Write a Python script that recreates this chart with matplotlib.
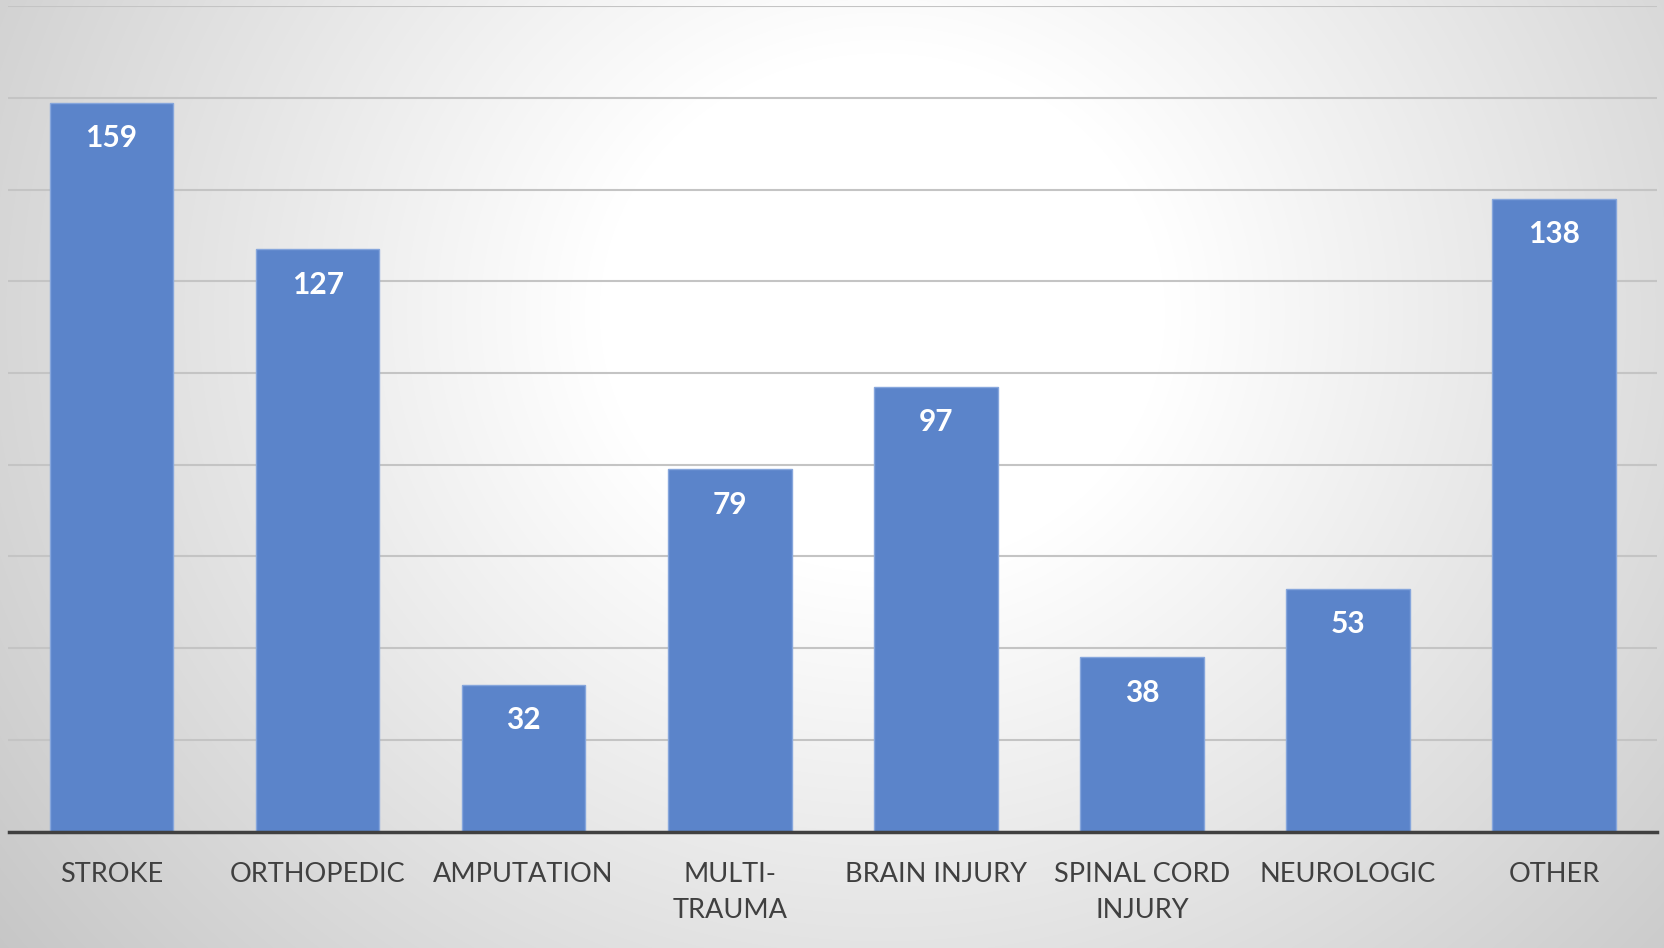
import numpy as np
import matplotlib
matplotlib.use("Agg")
import matplotlib.pyplot as plt

categories = ["STROKE", "ORTHOPEDIC", "AMPUTATION", "MULTI-\nTRAUMA", "BRAIN INJURY",
              "SPINAL CORD\nINJURY", "NEUROLOGIC", "OTHER"]
values = [159, 127, 32, 79, 97, 38, 53, 138]
y_ticks = [0, 20, 40, 60, 80, 100, 120, 140, 160, 180]

W, H = 1665, 948
fig = plt.figure(figsize=(W / 100, H / 100), dpi=100)

# radial gradient background
bg = fig.add_axes([0, 0, 1, 1], zorder=0)
yy, xx = np.mgrid[0:H, 0:W]
cx, cy = 0.53 * W, 0.33 * H
r = np.sqrt(((xx - cx) / W) ** 2 + (0.62 * (yy - cy) / H) ** 2)
t = np.clip((r - 0.17) / 0.5, 0, 1)
g = 1.0 - 0.22 * t
img = np.dstack([g, g, g])
bg.imshow(img, aspect="auto", extent=[0, 1, 0, 1], origin="upper")
bg.axis("off")

ax = fig.add_axes([8.5 / W, 1 - 831.5 / H, (1657 - 8.5) / W, (831.5 - 6.4) / H], zorder=1)
ax.set_facecolor("none")
x = np.arange(len(categories))
bars = ax.bar(x, values, width=0.6, color="#5b84ca", edgecolor="#86a6dc", linewidth=1.0, zorder=3)
ax.set_xlim(-0.5, len(categories) - 0.5)
ax.set_ylim(0, 180)
ax.set_yticks(y_ticks)
ax.yaxis.grid(True, color="#c4c4c4", linewidth=1.5, zorder=0)
ax.set_axisbelow(True)
ax.tick_params(left=False, labelleft=False, bottom=False, labelbottom=False)
for s in ["left", "right", "top"]:
    ax.spines[s].set_visible(False)
ax.spines["bottom"].set_color("#404040")
ax.spines["bottom"].set_linewidth(2.5)
ax.spines["bottom"].set_zorder(4)

for xi, v in zip(x, values):
    ax.annotate(str(v), xy=(xi, v), xytext=(0, -25.5), textcoords="offset points",
                ha="center", va="center", color="white", fontsize=21.5,
                fontweight="bold", family=["Lato", "DejaVu Sans"], zorder=5)

for xi, lab in zip(x, categories):
    ax.annotate(lab, xy=(xi, 0), xycoords=("data", "axes fraction"),
                xytext=(0, -22), textcoords="offset points", ha="center", va="top",
                color="#404040", fontsize=19.5, family=["Lato", "DejaVu Sans"],
                linespacing=1.55, annotation_clip=False)

fig.savefig("out.png", dpi=100)
